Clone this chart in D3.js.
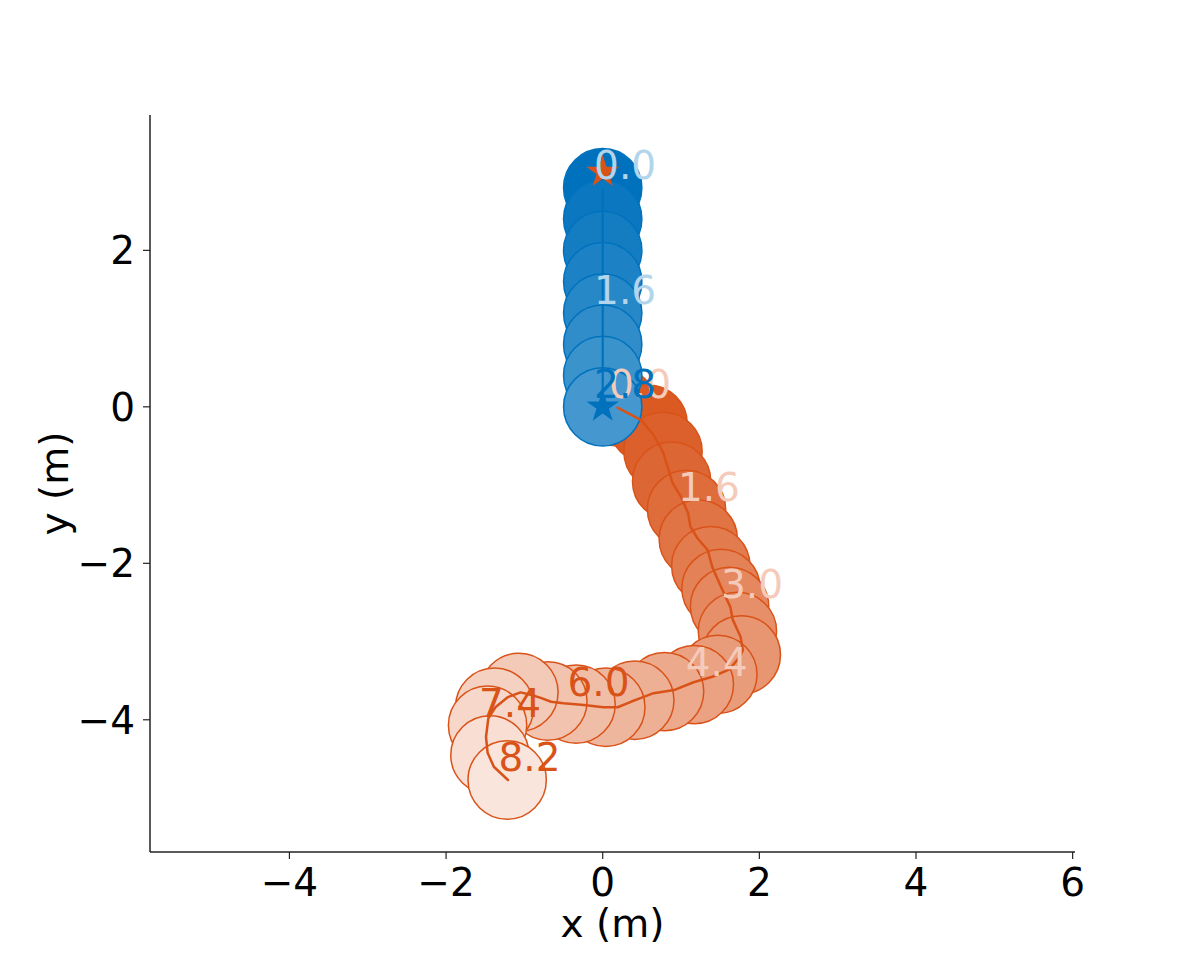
<!DOCTYPE html>
<html>
<head>
<meta charset="utf-8">
<script src="https://cdn.jsdelivr.net/npm/d3@7"></script>
<style>
  html, body { margin: 0; padding: 0; background: #fff; }
  svg { display: block; }
  text { font-family: "DejaVu Sans", sans-serif; }
</style>
</head>
<body>
<script>
// ---------------- data ----------------
const xTicks = [-4, -2, 0, 2, 4, 6];
const yTicks = [-4, -2, 0, 2];

// Blue agent: circle centres and time stamps
const blueX = [0, 0, 0, 0, 0, 0, 0, 0];
const blueY = [2.8, 2.4, 2.0, 1.6, 1.2, 0.8, 0.4, 0.0];
const blueTimes = [0.0, 0.4, 0.8, 1.2, 1.6, 2.0, 2.4, 2.8];
const blueGoal = [0, 0];

// Orange agent: circle centres and time stamps
const orangeX = [0.19, 0.58, 0.77, 0.88, 1.07, 1.22, 1.38, 1.51, 1.62, 1.72, 1.77, 1.47,
                 1.17, 0.79, 0.41, 0.04, -0.34, -0.70, -1.07, -1.38, -1.47, -1.44, -1.22];
const orangeY = [0.00, -0.22, -0.57, -0.95, -1.31, -1.69, -2.03, -2.32, -2.55, -2.87, -3.17, -3.42,
                 -3.55, -3.64, -3.75, -3.84, -3.80, -3.76, -3.65, -3.84, -4.07, -4.45, -4.77];
const orangeTimes = [0.0, 0.4, 0.8, 1.2, 1.6, 1.95, 2.3, 2.65, 3.0, 3.35, 3.7, 4.05,
                     4.4, 4.8, 5.2, 5.6, 6.0, 6.35, 6.7, 7.05, 7.4, 7.8, 8.2];
const orangeGoal = [0, 3.0];

// Orange trajectory line (finer path)
const orangePathX = [0.19, 0.49, 0.65, 0.77, 0.83, 0.89, 1.00, 1.09, 1.12, 1.21, 1.34, 1.40, 1.51,
                     1.63, 1.66, 1.76, 1.79, 1.74, 1.61, 1.40, 1.16, 0.91, 0.65, 0.49, 0.36, 0.19,
                     0.01, -0.24, -0.50, -0.66, -0.79, -0.92, -1.05, -1.21, -1.37, -1.46, -1.49,
                     -1.47, -1.39, -1.21];
const orangePathY = [-0.01, -0.17, -0.36, -0.58, -0.77, -0.97, -1.15, -1.36, -1.53, -1.68, -1.83, -2.05, -2.30,
                     -2.56, -2.72, -2.94, -3.11, -3.21, -3.36, -3.45, -3.52, -3.62, -3.66, -3.72, -3.77, -3.84,
                     -3.84, -3.81, -3.79, -3.77, -3.72, -3.68, -3.65, -3.71, -3.84, -3.98, -4.22,
                     -4.42, -4.60, -4.77];

// ---------------- chart ----------------
const W = 1196, H = 957;
const BLUE = "#0072BD", ORANGE = "#D95319";
const R = 0.5, LABEL_EVERY = 4;

const svg = d3.select("body").append("svg").attr("width", W).attr("height", H);
svg.append("rect").attr("width", W).attr("height", H).attr("fill", "#fff");

const x = d3.scaleLinear().domain([-5.78, 6.03]).range([150, 1075]);
const y = d3.scaleLinear().domain([-5.69, 3.73]).range([852, 115]);
const rPx = x(R) - x(0);

const alphaOf = i => 1 - i / 26;
const fillOf = (base, i) => d3.interpolateRgb("#ffffff", base)(alphaOf(i));

function agent(g, xs, ys, base) {
  g.selectAll("circle").data(xs.map((d, i) => i)).join("circle")
    .attr("cx", i => x(xs[i])).attr("cy", i => y(ys[i])).attr("r", rPx)
    .attr("fill", i => fillOf(base, i))
    .attr("stroke", base).attr("stroke-width", 1.5);
}

const gOrange = svg.append("g");
agent(gOrange, orangeX, orangeY, ORANGE);
const gBlue = svg.append("g");
agent(gBlue, blueX, blueY, BLUE);

const line = d3.line().x(d => x(d[0])).y(d => y(d[1])).curve(d3.curveLinear);
svg.append("path").datum(orangePathX.map((v, i) => [v, orangePathY[i]]))
  .attr("d", line).attr("fill", "none").attr("stroke", ORANGE).attr("stroke-width", 2.5)
  .attr("stroke-linejoin", "round").attr("stroke-linecap", "round");
svg.append("path").datum(blueX.map((v, i) => [v, blueY[i]]))
  .attr("d", line).attr("fill", "none").attr("stroke", BLUE).attr("stroke-width", 2.2);

// goal stars
const star = d3.symbol().type(d3.symbolStar).size(330);
svg.append("path").attr("d", star).attr("fill", ORANGE)
  .attr("transform", `translate(${x(orangeGoal[0])},${y(orangeGoal[1])})`);
svg.append("path").attr("d", star).attr("fill", BLUE)
  .attr("transform", `translate(${x(blueGoal[0])},${y(blueGoal[1])})`);

// time labels
function labels(xs, ys, ts, base) {
  const n = xs.length;
  const idx = xs.map((d, i) => i).filter(i => i % LABEL_EVERY === 0 || i === n - 1);
  svg.append("g").selectAll("text").data(idx).join("text")
    .attr("x", i => x(xs[i] - 0.11))
    .attr("y", i => y(ys[i] + 0.11))
    .attr("font-size", 39)
    .attr("fill", i => (i === n - 1 || alphaOf(i) < 0.45) ? base : d3.interpolateRgb("#ffffff", base)(0.3))
    .text(i => ts[i].toFixed(1));
}
labels(orangeX, orangeY, orangeTimes, ORANGE);
labels(blueX, blueY, blueTimes, BLUE);

// axes
const axG = svg.append("g").attr("stroke", "#222");
axG.append("line").attr("x1", 150).attr("x2", 150).attr("y1", 115).attr("y2", 852).attr("stroke-width", 1.5);
axG.append("line").attr("x1", 150).attr("x2", 1075).attr("y1", 852).attr("y2", 852).attr("stroke-width", 1.5);

const fmt = v => (v < 0 ? "\u2212" : "") + Math.abs(v);
const xt = svg.append("g").selectAll("g").data(xTicks).join("g")
  .attr("transform", d => `translate(${x(d)},852)`);
xt.append("line").attr("y2", 7).attr("stroke", "#222").attr("stroke-width", 1.2);
xt.append("text").attr("y", 16).attr("dy", "0.71em").attr("text-anchor", "middle")
  .attr("font-size", 39).attr("fill", "#000").text(fmt);

const yt = svg.append("g").selectAll("g").data(yTicks).join("g")
  .attr("transform", d => `translate(150,${y(d)})`);
yt.append("line").attr("x2", -7).attr("stroke", "#222").attr("stroke-width", 1.2);
yt.append("text").attr("x", -15).attr("dy", "0.36em").attr("text-anchor", "end")
  .attr("font-size", 39).attr("fill", "#000").text(fmt);

svg.append("text").attr("x", 612.5).attr("y", 937).attr("text-anchor", "middle")
  .attr("font-size", 39).attr("fill", "#000").text("x (m)");
svg.append("text").attr("transform", "translate(68,483.5) rotate(-90)").attr("text-anchor", "middle")
  .attr("font-size", 39).attr("fill", "#000").text("y (m)");
</script>
</body>
</html>
